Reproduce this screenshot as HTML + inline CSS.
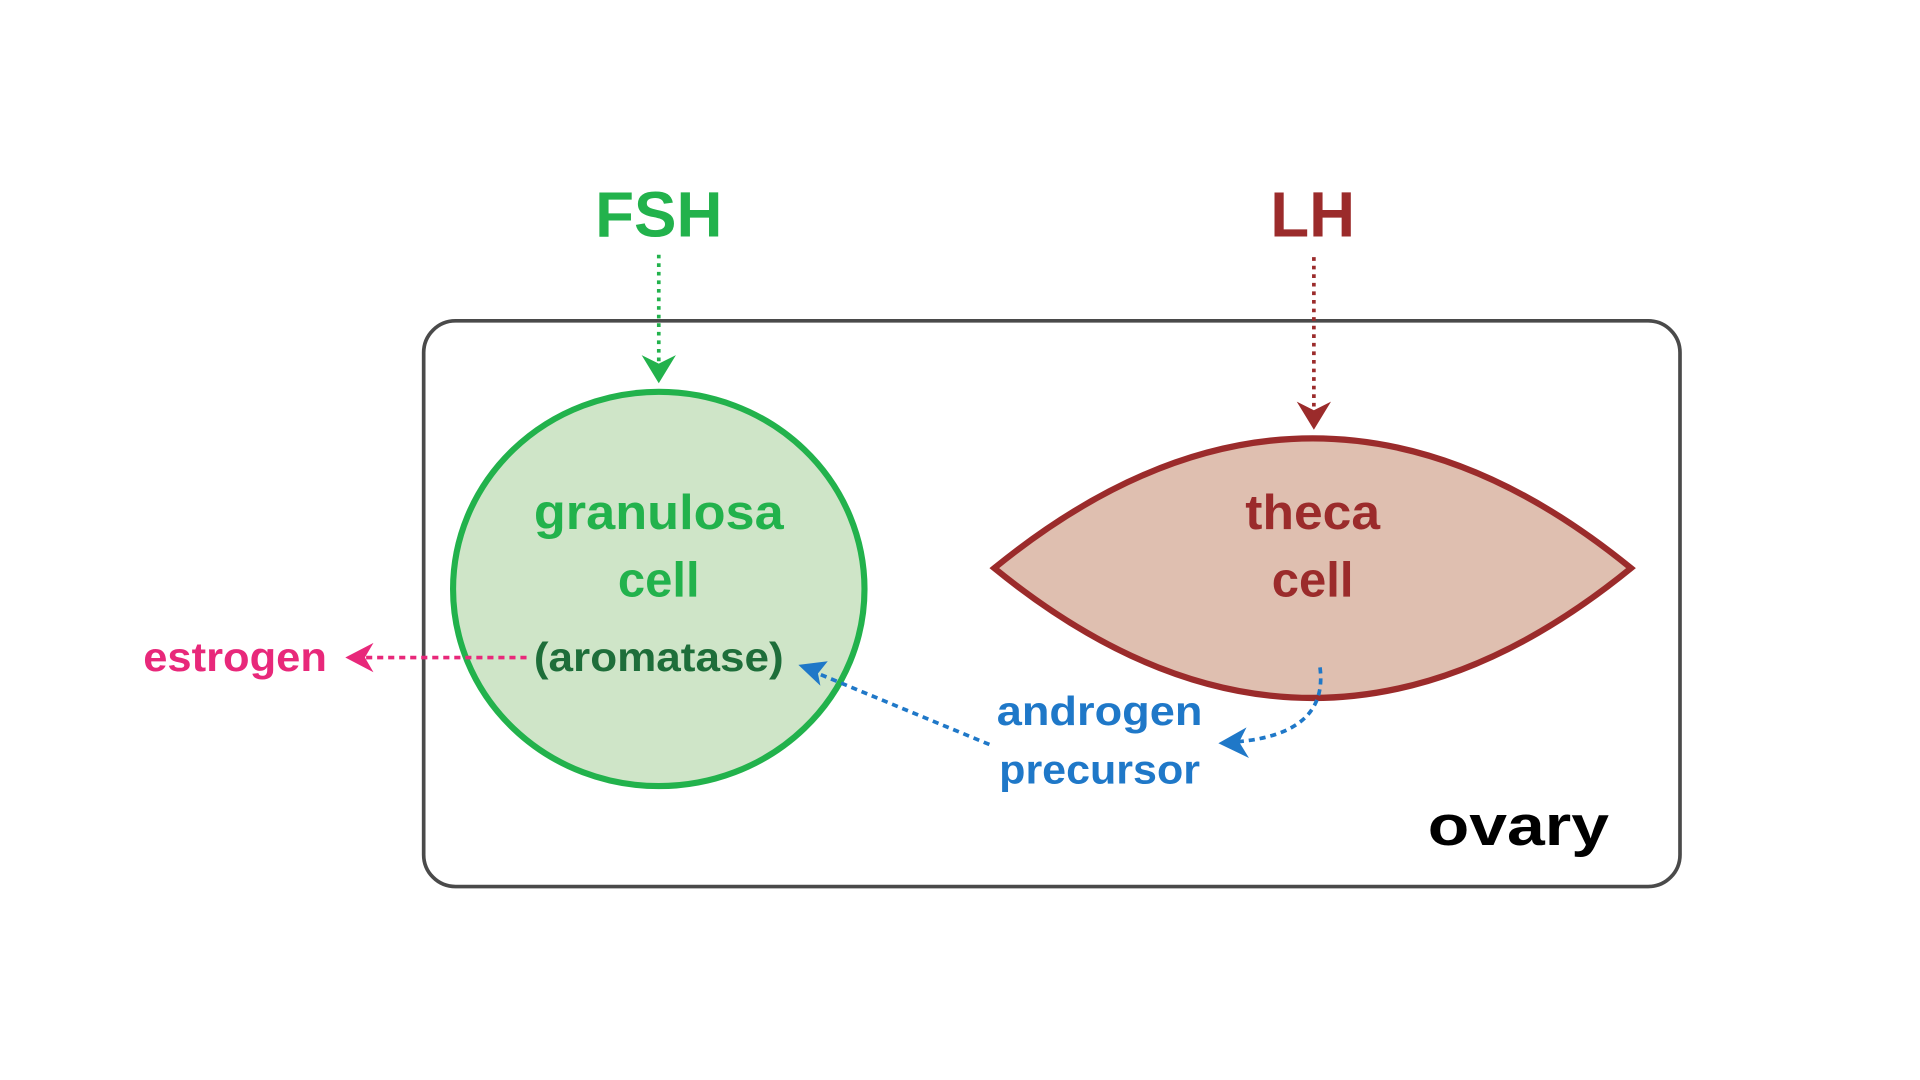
<!DOCTYPE html>
<html><head><meta charset="utf-8"><style>
html,body{margin:0;padding:0;background:#fff;width:1920px;height:1080px;overflow:hidden}
svg{display:block}
text{font-family:"Liberation Sans",sans-serif;font-weight:bold;text-anchor:middle}
</style></head><body>
<svg width="1920" height="1080" viewBox="0 0 1568 882" preserveAspectRatio="none">
<rect x="346" y="262" width="1026" height="462" rx="26" ry="26" fill="none" stroke="#4a4a4a" stroke-width="3"/>
<ellipse cx="538" cy="481" rx="168" ry="161" fill="#cfe5c8" stroke="#22b24c" stroke-width="5"/>
<path d="M812,464 Q1072,252 1332,464 Q1072,676 812,464 Z" fill="#dfbfb0" stroke="#9b2b2b" stroke-width="5" stroke-linejoin="miter"/>
<text x="538" y="193" font-size="52" fill="#22b24c">FSH</text>
<text x="1072" y="193" font-size="52" fill="#9b2b2b">LH</text>
<line x1="538" y1="208" x2="538" y2="300" stroke="#22b24c" stroke-width="3" stroke-dasharray="3,4"/>
<path d="M524,290 L538,313 L552,290 L538,297 Z" fill="#22b24c"/>
<line x1="1073" y1="210" x2="1073" y2="338" stroke="#9b2b2b" stroke-width="3" stroke-dasharray="3,4"/>
<path d="M1059,328 L1073,351 L1087,328 L1073,335 Z" fill="#9b2b2b"/>
<text x="538" y="432" font-size="40" fill="#22b24c" textLength="204" lengthAdjust="spacingAndGlyphs">granulosa</text>
<text x="538" y="487" font-size="40" fill="#22b24c">cell</text>
<text x="1072" y="432" font-size="40" fill="#9b2b2b" textLength="110" lengthAdjust="spacingAndGlyphs">theca</text>
<text x="1072" y="487" font-size="40" fill="#9b2b2b">cell</text>
<text x="538" y="548" font-size="33" fill="#1e6e3a" textLength="204" lengthAdjust="spacingAndGlyphs">(aromatase)</text>
<text x="192" y="548" font-size="33" fill="#e8287a" textLength="150" lengthAdjust="spacingAndGlyphs">estrogen</text>
<text x="898" y="592" font-size="33" fill="#1f78c8" textLength="168" lengthAdjust="spacingAndGlyphs">androgen</text>
<text x="898" y="640" font-size="33" fill="#1f78c8" textLength="164" lengthAdjust="spacingAndGlyphs">precursor</text>
<line x1="430" y1="537" x2="295" y2="537" stroke="#e8287a" stroke-width="3" stroke-dasharray="5,4"/>
<path d="M305,525 L282,537 L305,549 L298,537 Z" fill="#e8287a"/>
<line x1="808" y1="608" x2="668" y2="550" stroke="#1f78c8" stroke-width="3" stroke-dasharray="5,4"/>
<path d="M676,540 L652,543 L670,560 L668,550 Z" fill="#1f78c8"/>
<path d="M1078,545 Q1085,600 1008,606" fill="none" stroke="#1f78c8" stroke-width="3" stroke-dasharray="5,4"/>
<path d="M1018,594 L995,607 L1020,619 L1012,606 Z" fill="#1f78c8"/>
<text x="1240" y="690" font-size="46" fill="#000" textLength="148" lengthAdjust="spacingAndGlyphs">ovary</text>
</svg>
</body></html>
